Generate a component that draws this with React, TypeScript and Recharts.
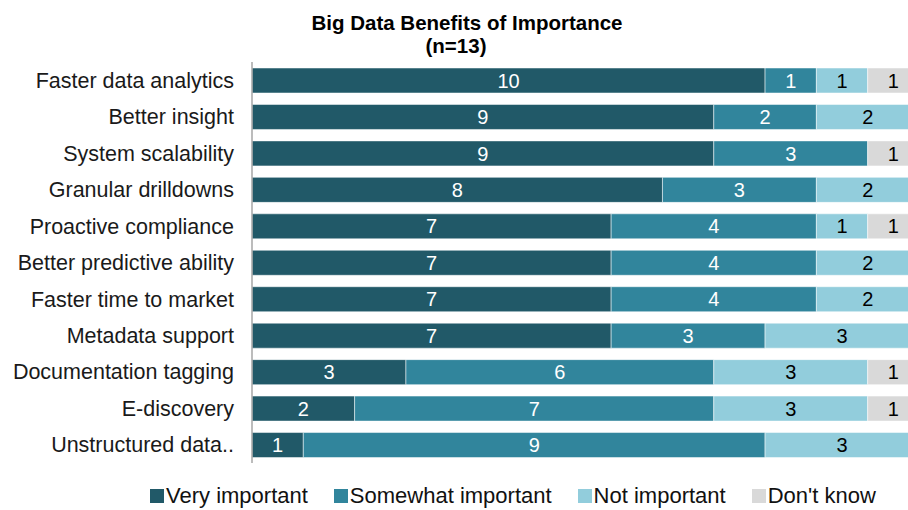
import React from 'react';
import { BarChart, Bar, XAxis, YAxis, Legend, LabelList } from 'recharts';

const categories = [
  'Faster data analytics',
  'Better insight',
  'System scalability',
  'Granular drilldowns',
  'Proactive compliance',
  'Better predictive ability',
  'Faster time to market',
  'Metadata support',
  'Documentation tagging',
  'E-discovery',
  'Unstructured data..',
];

const veryImportant = [10, 9, 9, 8, 7, 7, 7, 7, 3, 2, 1];
const somewhatImportant = [1, 2, 3, 3, 4, 4, 4, 3, 6, 7, 9];
const notImportant = [1, 2, 0, 2, 1, 2, 2, 3, 3, 3, 3];
const dontKnow = [1, 0, 1, 0, 1, 0, 0, 0, 1, 1, 0];

const data = categories.map((name, i) => ({
  name,
  very: veryImportant[i],
  somewhat: somewhatImportant[i],
  not: notImportant[i],
  dk: dontKnow[i],
}));

const FONT = '"Liberation Sans", Arial, sans-serif';

const series = [
  { key: 'very', label: 'Very important', color: '#215968', text: '#ffffff' },
  { key: 'somewhat', label: 'Somewhat important', color: '#31859c', text: '#ffffff' },
  { key: 'not', label: 'Not important', color: '#92cddc', text: '#000000' },
  { key: 'dk', label: "Don't know", color: '#d9d9d9', text: '#000000' },
];

const hideZero = (v: any) => (v ? v : '');

const LegendContent = () => (
  <div
    style={{
      height: 47,
      display: 'flex',
      alignItems: 'flex-end',
      paddingLeft: 150,
      boxSizing: 'border-box',
      fontFamily: FONT,
      fontSize: 22,
      color: '#111',
      gap: 26,
    }}
  >
    {series.map(s => (
      <div key={s.key} style={{ display: 'flex', alignItems: 'center', height: 22, marginBottom: 3 }}>
        <span style={{ display: 'inline-block', width: 14, height: 14, background: s.color, marginRight: 2 }} />
        <span style={{ whiteSpace: 'nowrap' }}>{s.label}</span>
      </div>
    ))}
  </div>
);

export default function App() {
  return (
    <div style={{ position: 'fixed', left: 0, top: 0, width: 908, height: 510, overflow: 'hidden', background: '#fff' }}>
      <div style={{ position: 'absolute', left: 0, width: 934, top: 11, textAlign: 'center', fontFamily: FONT, fontWeight: 'bold', fontSize: 20.5, lineHeight: '23px', color: '#000' }}>
        Big Data Benefits of Importance
      </div>
      <div style={{ position: 'absolute', left: 0, width: 912, top: 34, textAlign: 'center', fontFamily: FONT, fontWeight: 'bold', fontSize: 20.5, lineHeight: '23px', color: '#000' }}>
        (n=13)
      </div>
      <BarChart
        width={940}
        height={510}
        data={data}
        layout="vertical"
        margin={{ top: 62, right: 21, bottom: 0, left: 0 }}
        barSize={25}
      >
        <XAxis type="number" domain={[0, 13]} hide />
        <YAxis
          type="category"
          dataKey="name"
          width={252}
          interval={0}
          tickLine={false}
          tickSize={0}
          tickMargin={18}
          axisLine={{ stroke: '#a6a6a6', strokeWidth: 1.5 }}
          tick={{ fill: '#1a1a1a', fontSize: 21.5, fontFamily: FONT }}
        />
        <Legend verticalAlign="bottom" content={<LegendContent />} />
        {series.map(s => (
          <Bar
            key={s.key}
            dataKey={s.key}
            stackId="a"
            fill={s.color}
            stroke="#ffffff"
            strokeWidth={0.5}
            isAnimationActive={false}
          >
            <LabelList
              dataKey={s.key}
              position="center"
              formatter={hideZero}
              fill={s.text}
              style={{ fontSize: 20, fontFamily: FONT }}
            />
          </Bar>
        ))}
      </BarChart>
    </div>
  );
}
